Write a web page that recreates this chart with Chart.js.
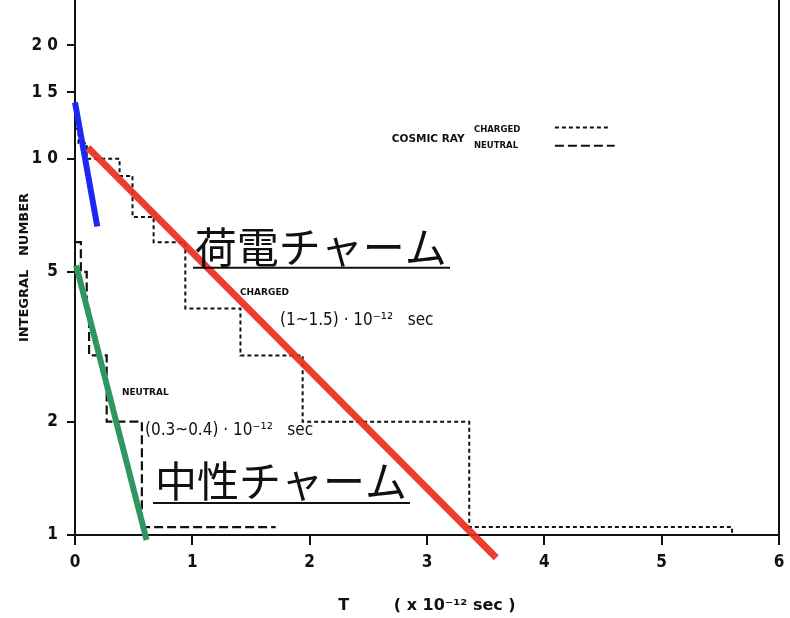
<!DOCTYPE html>
<html><head><meta charset="utf-8">
<script src="https://cdn.jsdelivr.net/npm/chart.js@4.4.0/dist/chart.umd.min.js"></script>
<style>html,body{margin:0;padding:0;background:#fff;}#wrap{position:relative;width:790px;height:618px;}</style>
</head><body><div id="wrap"><canvas id="c" width="790" height="618"></canvas></div>
<script>
// Step data (T in 1e-12 sec, integral number)
const chargedT = [0, 0.03, 0.10, 0.38, 0.49, 0.67, 0.94, 1.41, 1.94, 3.36, 5.60, 5.60];
const chargedN = [12, 11, 10, 9, 7, 6, 4, 3, 2, 1.05, 1.05, 1.0];
const neutralT = [0, 0.05, 0.10, 0.12, 0.27, 0.57, 1.71];
const neutralN = [6, 5, 4, 3, 2, 1.05, 1.05];
// Fitted lines drawn over the steps
const redFitT = [0.11, 3.59];
const redFitN = [10.7, 0.87];
const blueFitT = [0.0, 0.19];
const blueFitN = [14.1, 6.6];
const greenFitT = [0.01, 0.61];
const greenFitN = [5.2, 0.97];
// Axes
const xTicks = [0, 1, 2, 3, 4, 5, 6];
const yTicks = [1, 2, 5, 10, 15, 20];
const yTickLabels = ['1', '2', '5', '1 0', '1 5', '2 0'];

const pts = (xs, ys) => xs.map((x, i) => ({x: x, y: ys[i]}));
const FONT = "'DejaVu Sans Condensed','Liberation Sans Narrow','DejaVu Sans',sans-serif";
const WIDE = "'DejaVu Sans',sans-serif";
const INK = '#111';

const annotations = {
  id: 'annotations',
  afterDatasetsDraw(chart) {
    const ctx = chart.ctx, xs = chart.scales.x, ys = chart.scales.y;
    const X = v => xs.getPixelForValue(v), Y = v => ys.getPixelForValue(v);
    ctx.save();
    ctx.fillStyle = INK; ctx.strokeStyle = INK;
    ctx.textBaseline = 'middle'; ctx.textAlign = 'left';
    // Japanese labels
    ctx.font = "42px 'Noto Sans CJK JP'";
    ctx.fillText('荷電チャーム', X(1.02), Y(5.83));
    ctx.fillText('中性チャーム', X(0.682), Y(1.392));
    ctx.lineWidth = 2;
    ctx.beginPath();
    ctx.moveTo(X(1.006), Y(5.13)); ctx.lineTo(X(3.196), Y(5.13));
    ctx.moveTo(X(0.665), Y(1.216)); ctx.lineTo(X(2.855), Y(1.216));
    ctx.stroke();
    // small labels
    ctx.font = "bold 9px " + WIDE;
    ctx.fillText('CHARGED', X(1.406), Y(4.40));
    ctx.fillText('NEUTRAL', X(0.40), Y(2.39));
    ctx.font = "17px " + FONT;
    ctx.fillText('(1~1.5) · 10⁻¹²   sec', X(1.747), Y(3.71));
    ctx.fillText('(0.3~0.4) · 10⁻¹²   sec', X(0.597), Y(1.90));
    // legend
    ctx.font = "bold 10.5px " + WIDE;
    ctx.fillText('COSMIC RAY', X(2.70), Y(11.23));
    ctx.font = "bold 8.5px " + WIDE;
    ctx.fillText('CHARGED', X(3.40), Y(11.94));
    ctx.fillText('NEUTRAL', X(3.40), Y(10.83));
    ctx.lineWidth = 2;
    ctx.setLineDash([4, 3]);
    ctx.beginPath(); ctx.moveTo(X(4.09), Y(12.1)); ctx.lineTo(X(4.56), Y(12.1)); ctx.stroke();
    ctx.setLineDash([9, 4]);
    ctx.beginPath(); ctx.moveTo(X(4.09), Y(10.83)); ctx.lineTo(X(4.60), Y(10.83)); ctx.stroke();
    ctx.setLineDash([]);
    // right frame line
    const a = chart.chartArea;
    ctx.lineWidth = 2;
    ctx.beginPath(); ctx.moveTo(a.right, a.top); ctx.lineTo(a.right, a.bottom); ctx.stroke();
    ctx.restore();
  }
};

new Chart(document.getElementById('c'), {
  type: 'line',
  data: {
    datasets: [
      {label: 'charged fit', data: pts(redFitT, redFitN), borderColor: 'rgba(236,45,30,0.92)', borderWidth: 7, pointRadius: 0, clip: false, order: 0},
      {label: 'blue fit', data: pts(blueFitT, blueFitN), borderColor: 'rgb(30,40,245)', borderWidth: 6, pointRadius: 0, clip: false, order: 0},
      {label: 'neutral fit', data: pts(greenFitT, greenFitN), borderColor: 'rgb(48,150,95)', borderWidth: 6, pointRadius: 0, clip: false, order: 0},
      {label: 'CHARGED', data: pts(chargedT, chargedN), stepped: true, borderColor: INK, borderWidth: 2, borderDash: [4, 3], pointRadius: 0, clip: false, order: 1},
      {label: 'NEUTRAL', data: pts(neutralT, neutralN), stepped: true, borderColor: INK, borderWidth: 2.2, borderDash: [9, 4], pointRadius: 0, clip: false, order: 1}
    ]
  },
  options: {
    responsive: false, animation: false, devicePixelRatio: 1,
    layout: {padding: {top: 0, right: 11, bottom: 0, left: 0}},
    plugins: {legend: {display: false}, tooltip: {enabled: false}},
    scales: {
      x: {
        type: 'linear', min: 0, max: 6, position: 'bottom',
        afterBuildTicks: s => { s.ticks = xTicks.map(v => ({value: v})); },
        afterFit: s => { s.height = 83; s.paddingLeft = 0; s.paddingRight = 0; },
        grid: {drawOnChartArea: false, drawTicks: true, tickLength: 10, color: INK, lineWidth: 2},
        border: {display: true, color: INK, width: 2},
        ticks: {color: INK, padding: 7, font: {family: FONT, size: 17, weight: 'bold'}},
        title: {display: true, text: 'T        ( x 10⁻¹² sec )', color: INK, font: {family: WIDE, size: 16, weight: 'bold'}, padding: {top: 0, bottom: 3}}
      },
      y: {
        type: 'logarithmic', min: 1, max: 26.4, position: 'left',
        afterBuildTicks: s => { s.ticks = yTicks.map(v => ({value: v})); },
        afterFit: s => { s.width = 75; s.paddingTop = 0; s.paddingBottom = 0; },
        grid: {drawOnChartArea: false, drawTicks: true, tickLength: 8, color: INK, lineWidth: 2},
        border: {display: true, color: INK, width: 2},
        ticks: {color: INK, padding: 9, font: {family: FONT, size: 17, weight: 'bold'},
          callback: v => { const i = yTicks.indexOf(v); return i >= 0 ? yTickLabels[i] : ''; }},
        title: {display: true, text: 'INTEGRAL   NUMBER', color: INK, font: {family: WIDE, size: 13, weight: 'bold'}, padding: {top: 17, bottom: 0}}
      }
    }
  },
  plugins: [annotations]
});
</script></body></html>
